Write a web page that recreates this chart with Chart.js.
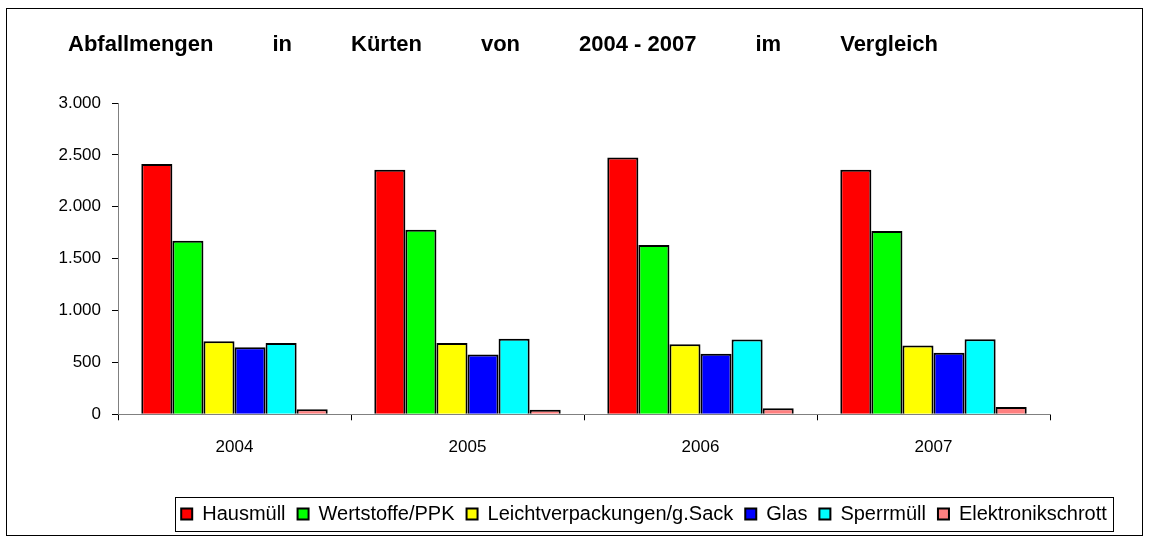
<!DOCTYPE html>
<html><head><meta charset="utf-8">
<script src="https://cdn.jsdelivr.net/npm/chart.js@4.4.1/dist/chart.umd.min.js"></script>
<style>html,body{margin:0;padding:0;background:#fff}#wrap{width:1152px;height:544px}</style>
</head><body><div id="wrap"><canvas id="c" width="1152" height="544"></canvas></div>
<script>
const categories = ['2004', '2005', '2006', '2007'];
const seriesNames = ['Hausmüll', 'Wertstoffe/PPK', 'Leichtverpackungen/g.Sack', 'Glas', 'Sperrmüll', 'Elektronikschrott'];
const hausmuell = [2411, 2356, 2474, 2356];
const wertstoffe = [1673, 1779, 1632, 1766];
const leichtverpackungen = [705, 686, 676, 663];
const glas = [647, 577, 583, 593];
const sperrmuell = [686, 728, 721, 724];
const elektronikschrott = [48, 45, 58, 70];
const yTickValues = [0, 500, 1000, 1500, 2000, 2500, 3000];
const titleWords = ['Abfallmengen', 'in', 'Kürten', 'von', '2004 - 2007', 'im', 'Vergleich'];

const seriesValues = [hausmuell, wertstoffe, leichtverpackungen, glas, sperrmuell, elektronikschrott];
const seriesColors = ['#FF0000', '#00FF00', '#FFFF00', '#0000FF', '#00FFFF', '#FF8080'];

function fmt(v) { return String(v).replace(/\B(?=(\d{3})+(?!\d))/g, '.'); }

const deco = {
  id: 'deco',
  afterLayout(chart) {
    const lg = chart.legend;
    const dx = 119, dy = -5;
    lg.left += dx; lg.right += dx;
    lg.top += dy; lg.bottom += dy;
  },
  afterDraw(chart) {
    const ctx = chart.ctx;
    ctx.save();
    ctx.strokeStyle = '#000'; ctx.lineWidth = 1;
    ctx.strokeRect(6.5, 8.5, 1136, 527);
    // title
    ctx.font = 'bold 22px "Liberation Sans", Arial, sans-serif';
    ctx.fillStyle = '#000';
    ctx.textBaseline = 'middle';
    const x0 = 68, x1 = 938;
    let total = 0;
    const w = titleWords.map(t => ctx.measureText(t).width);
    w.forEach(v => total += v);
    const gap = (x1 - x0 - total) / (titleWords.length - 1);
    let x = x0;
    titleWords.forEach((t, i) => { ctx.fillText(t, x, 45); x += w[i] + gap; });
    // legend frame
    const lg = chart.legend;
    if (lg.legendHitBoxes && lg.legendHitBoxes.length) {
      const hb = lg.legendHitBoxes;
      const l = hb[0].left - 6, r = hb[hb.length - 1].left + hb[hb.length - 1].width + 6;
      const t = chart.chartArea.bottom + 82.7, b = t + 34;
      ctx.strokeStyle = '#000';
      ctx.strokeRect(Math.round(l) + 0.5, Math.round(t) + 0.5, Math.round(r - l), Math.round(b - t));
    }
    ctx.restore();
  }
};

new Chart(document.getElementById('c'), {
  type: 'bar',
  data: {
    labels: categories,
    datasets: seriesNames.map((n, i) => ({
      label: n,
      data: seriesValues[i],
      backgroundColor: seriesColors[i],
      borderColor: '#000',
      borderWidth: 2,
      categoryPercentage: 0.8,
      barPercentage: 1.0
    }))
  },
  options: {
    responsive: false,
    animation: false,
    events: [],
    layout: { padding: { top: 103, left: 0, right: 102, bottom: 5 } },
    plugins: {
      title: { display: false },
      tooltip: { enabled: false },
      legend: {
        position: 'bottom',
        labels: {
          boxWidth: 11, boxHeight: 11, padding: 12, color: '#000',
          font: { family: '"Liberation Sans", Arial, sans-serif', size: 20 }
        }
      }
    },
    scales: {
      x: {
        afterFit(s) { s.height = 82.7; },
        grid: { display: true, drawOnChartArea: false, drawTicks: true, tickLength: 6, tickColor: '#000', offset: true },
        border: { color: '#808080', width: 1 },
        ticks: { color: '#000', padding: 17, font: { family: '"Liberation Sans", Arial, sans-serif', size: 17 } }
      },
      y: {
        min: 0, max: 3000,
        afterFit(s) { s.width = 118; },
        afterBuildTicks(s) { s.ticks = yTickValues.map(v => ({ value: v })); },
        grid: { display: true, drawOnChartArea: false, drawTicks: true, tickLength: 6, tickColor: '#000' },
        border: { color: '#808080', width: 1 },
        ticks: { color: '#000', padding: 11, callback: v => fmt(v), font: { family: '"Liberation Sans", Arial, sans-serif', size: 17 } }
      }
    }
  },
  plugins: [deco]
});
</script></body></html>
